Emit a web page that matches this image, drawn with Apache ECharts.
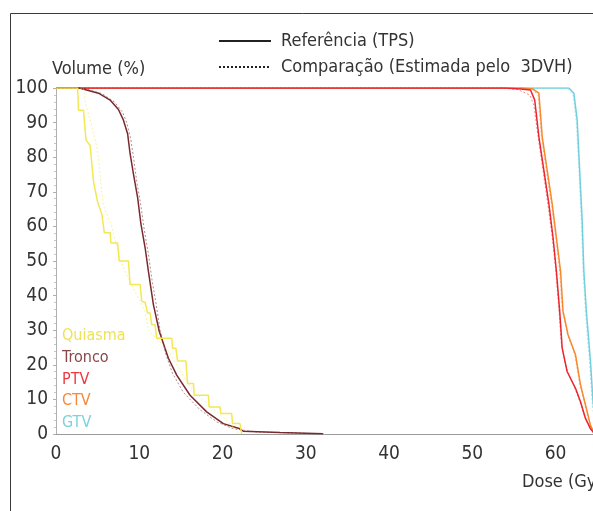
<!DOCTYPE html>
<html>
<head>
<meta charset="utf-8">
<script src="https://cdn.jsdelivr.net/npm/echarts@6/dist/echarts.min.js"></script>
<style>
  html, body { margin: 0; padding: 0; background: #fff; }
  #chart { width: 593px; height: 511px; }
</style>
</head>
<body>
<div id="chart"></div>
<script>
// dose (Gy), volume (%)
const quiasmaRef = [[0, 100], [2.6, 100], [2.7, 93.6], [3.3, 93.6], [3.6, 85], [4.1, 83.4], [4.5, 73], [5.0, 67],
  [5.5, 63.6], [5.8, 58.2], [6.5, 58.2], [6.6, 55.2], [7.4, 55.2], [7.6, 50], [8.7, 50], [8.9, 43.2], [10.1, 43.2],
  [10.3, 38.4], [10.7, 38], [11.0, 35], [11.3, 35], [11.5, 31.6], [11.9, 31.6], [12.1, 27.7], [13.9, 27.7],
  [14.0, 24.8], [14.4, 24.8], [14.6, 21.1], [15.6, 21.1], [15.8, 14.6], [16.5, 14.6], [16.6, 11.2], [18.3, 11.2],
  [18.4, 7.8], [19.7, 7.8], [19.8, 5.9], [21.1, 5.9], [21.2, 3.0], [22.1, 3.0], [22.3, 0]]
const quiasmaComp = [[0, 100], [3.3, 100], [3.6, 95], [4.2, 90], [4.8, 84], [5.1, 80], [5.4, 72], [5.7, 66],
  [6.7, 60], [7.2, 55], [8.1, 48], [9.3, 42], [10.2, 38], [10.7, 35.5], [11.1, 30], [12.3, 27], [13.5, 24],
  [14.5, 20], [15.5, 16], [16.5, 12.5], [18, 9], [19.5, 6], [20.5, 4], [21.5, 1.5], [22, 0]]
const troncoRef = [[0, 100], [2.8, 100], [5.1, 98.5], [6.5, 96.5], [7.5, 93.8], [8.1, 90.7], [8.6, 86.8], [8.9, 81],
  [9.3, 75.2], [9.8, 68.4], [10.2, 60.7], [10.7, 53.9], [11.1, 47], [11.7, 37.4], [12.4, 29.7], [13.5, 21.9],
  [14.5, 17], [16.1, 11.2], [18.1, 6.4], [20.1, 3], [22.1, 1.5], [22.5, 0.8], [26.9, 0.4], [32.1, 0.1]]
const troncoComp = [[0, 100], [3.2, 100], [5.5, 98.4], [7, 96], [8, 93], [8.5, 90], [9, 85], [9.3, 80], [9.7, 73],
  [10.2, 66], [10.6, 59], [11.1, 52], [11.5, 45], [12, 38], [12.5, 30], [13.2, 23], [14, 17.5], [15.3, 12],
  [17.3, 7], [19.3, 3.5], [21.3, 1.5], [24, 0.6], [28, 0.3], [31.5, 0.1]]
const ptvRef = [[0, 100], [54, 100], [55.8, 99.7], [57, 99.4], [57.5, 96.5], [58, 85.9], [58.6, 76.2], [59.2, 66.5],
  [59.7, 56.8], [60.1, 47.1], [60.5, 35.5], [60.8, 24.8], [61.4, 18], [62.4, 13.2], [63, 9.3], [63.6, 4.5],
  [64.2, 1.5], [64.6, 0.3]]
const ptvComp = [[0, 100], [53.5, 100], [55.5, 99.5], [56.9, 98], [57.4, 95], [57.9, 86], [58.5, 76], [59.1, 66],
  [59.6, 57], [60, 48], [60.4, 36], [60.7, 26], [61.3, 19], [62.2, 14], [62.9, 9.5], [63.5, 5], [64.2, 1.6],
  [64.5, 0.4]]
const ctvRef = [[0, 100], [56, 100], [57.3, 99.7], [58, 98.5], [58.4, 85.9], [59, 76.2], [59.6, 66.5], [60.1, 56.8],
  [60.6, 47.1], [60.9, 35.5], [61.5, 28.7], [62.4, 22.9], [63, 14.2], [63.6, 8.4], [64.2, 2.5], [64.6, 0.5]]
const ctvComp = [[0, 100], [55.8, 100], [57.2, 99.6], [57.9, 98], [58.3, 86], [58.9, 76], [59.5, 66.5], [60, 57],
  [60.5, 47], [60.8, 36], [61.4, 29], [62.3, 23], [62.9, 14.5], [63.5, 8.6], [64.1, 2.7], [64.5, 0.6]]
const gtvRef = [[0, 100], [61.6, 100], [62.2, 98.5], [62.6, 90.7], [62.9, 76.2], [63.2, 61.6], [63.4, 47.1],
  [63.7, 35.5], [64.2, 20.9], [64.5, 9.3], [64.8, 3], [65.2, 0]]
const gtvComp = [[0, 100], [61.4, 100], [62.1, 98], [62.5, 90], [62.8, 76], [63.1, 61], [63.3, 47], [63.6, 35],
  [64.1, 20], [64.4, 9], [64.7, 3], [65.1, 0]]

const structures = ['Quiasma', 'Tronco', 'PTV', 'CTV', 'GTV']
const legendNames = ['Referência (TPS)', 'Comparação (Estimada pelo  3DVH)']

const FONT = '"Liberation Sans Narrow", "DejaVu Sans Condensed", sans-serif'
const colors = {
  Quiasma: '#f3e852',
  Tronco: '#7a2a2e',
  PTV: '#ec2630',
  CTV: '#f7882c',
  GTV: '#72cfdc'
}
const labelColors = {
  Quiasma: '#efe256',
  Tronco: '#8a4649',
  PTV: '#ee3840',
  CTV: '#f58a3a',
  GTV: '#7dd2de'
}

function refLine(name, data) {
  return {
    name: name,
    type: 'line',
    data: data,
    symbol: 'none',
    silent: true,
    lineStyle: { color: colors[name], width: 1.5 },
    itemStyle: { color: colors[name] }
  }
}
function compLine(name, data) {
  return {
    name: name,
    type: 'line',
    data: data,
    symbol: 'none',
    silent: true,
    lineStyle: { color: colors[name], width: 1, type: [2, 2], opacity: 0.55 },
    itemStyle: { color: colors[name] }
  }
}

const chart = echarts.init(document.getElementById('chart'))
chart.setOption({
  animation: false,
  textStyle: { fontFamily: FONT },
  grid: { left: 56, right: 0, top: 88, bottom: 77, outerBoundsMode: 'none' },
  xAxis: {
    type: 'value',
    min: 0,
    max: 64.5,
    interval: 10,
    axisLine: { lineStyle: { color: '#9a9a9a' } },
    axisTick: { show: false },
    splitLine: { show: false },
    axisLabel: {
      color: '#333',
      fontSize: 19,
      margin: 11,
      fontFamily: FONT,
      showMaxLabel: false
    },
    name: 'Dose (Gy)',
    nameLocation: 'end',
    nameGap: -71,
    nameTextStyle: {
      color: '#333',
      fontSize: 18,
      fontFamily: FONT,
      align: 'left',
      verticalAlign: 'top',
      padding: [39, 0, 0, 0]
    }
  },
  yAxis: {
    type: 'value',
    min: 0,
    max: 100,
    interval: 10,
    axisLine: { show: true, lineStyle: { color: '#b0b0b0' } },
    axisTick: { show: true, length: 3, lineStyle: { color: '#b0b0b0' } },
    minorTick: { show: true, splitNumber: 5, length: 2, lineStyle: { color: '#c8c8c8' } },
    splitLine: { show: false },
    axisLabel: { color: '#333', fontSize: 19, margin: 8, fontFamily: FONT },
    name: 'Volume (%)',
    nameLocation: 'end',
    nameGap: 9,
    nameTextStyle: {
      color: '#333',
      fontSize: 18,
      fontFamily: FONT,
      align: 'left',
      verticalAlign: 'bottom',
      padding: [0, 0, 0, -4]
    }
  },
  legend: [{
    data: legendNames,
    orient: 'vertical',
    left: 213,
    top: 27,
    padding: 5,
    itemWidth: 52,
    itemHeight: 18,
    itemGap: 8,
    itemStyle: { opacity: 0 },
    textStyle: { color: '#333', fontSize: 18, fontFamily: FONT, padding: [0, 0, 0, 5] },
    selectedMode: false
  }, {
    data: structures.map(function (s) {
      return { name: s, icon: 'none', textStyle: { color: labelColors[s] } }
    }),
    orient: 'vertical',
    left: 57,
    top: 328,
    padding: 0,
    itemWidth: 0,
    itemHeight: 10,
    itemGap: 5.7,
    textStyle: { fontSize: 16, lineHeight: 16, fontFamily: FONT },
    selectedMode: false
  }],
  graphic: [{
    type: 'rect',
    shape: { x: 10.5, y: 13.5, width: 700, height: 600 },
    style: { fill: null, stroke: '#3a3a3a', lineWidth: 1 },
    silent: true
  }],
  series: [
    compLine('GTV', gtvComp),
    refLine('GTV', gtvRef),
    compLine('CTV', ctvComp),
    refLine('CTV', ctvRef),
    compLine('PTV', ptvComp),
    refLine('PTV', ptvRef),
    compLine('Tronco', troncoComp),
    refLine('Tronco', troncoRef),
    compLine('Quiasma', quiasmaComp),
    refLine('Quiasma', quiasmaRef),
    {
      name: legendNames[0],
      type: 'line',
      data: [],
      symbol: 'none',
      lineStyle: { color: '#222', width: 1.2 },
      itemStyle: { color: '#222' }
    },
    {
      name: legendNames[1],
      type: 'line',
      data: [],
      symbol: 'none',
      lineStyle: { color: '#222', width: 1, type: [2, 2] },
      itemStyle: { color: '#222' }
    }
  ]
})
</script>
</body>
</html>
